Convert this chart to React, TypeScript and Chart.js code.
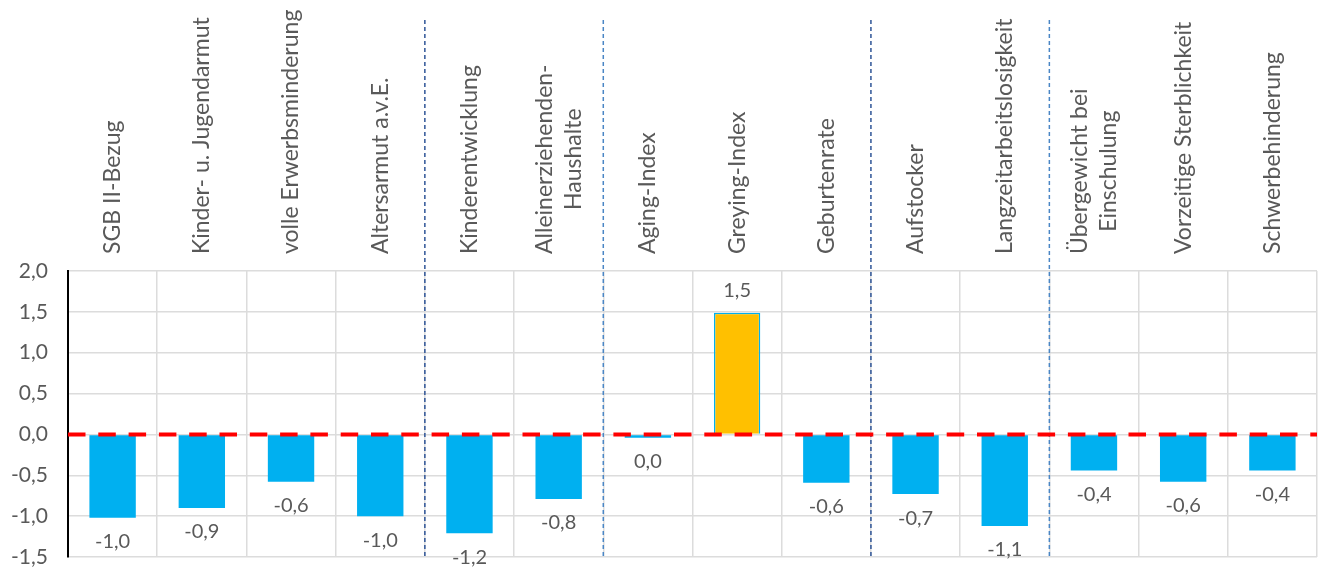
import React, { useEffect, useRef } from 'react';
import { Chart, registerables } from 'chart.js';

Chart.register(...registerables);

const categories = [
  'SGB II-Bezug',
  'Kinder- u. Jugendarmut',
  'volle Erwerbsminderung',
  'Altersarmut a.v.E.',
  'Kinderentwicklung',
  'Alleinerziehenden-\nHaushalte',
  'Aging-Index',
  'Greying-Index',
  'Geburtenrate',
  'Aufstocker',
  'Langzeitarbeitslosigkeit',
  'Übergewicht bei\nEinschulung',
  'Vorzeitige Sterblichkeit',
  'Schwerbehinderung',
];
const values = [-1.02, -0.9, -0.58, -1.0, -1.21, -0.79, -0.04, 1.49, -0.59, -0.73, -1.12, -0.44, -0.58, -0.44];
const highlightIndex = 7;
const yMin = -1.5;
const yMax = 2.0;
const yStep = 0.5;
const groupBreaks = [4, 6, 9, 11];
const breakColors = ['#2F5597', '#4A86C5', '#2F5597', '#4A86C5'];

const FONT = 'Lato';
const TEXT = '#595959';

const fmt = (v: number) => {
  const r = Math.round(Math.abs(v) * 10) / 10;
  const s = r.toFixed(1).replace('.', ',');
  return v < 0 && r !== 0 ? '-' + s : s;
};

const overlay = {
  id: 'overlay',
  afterDatasetsDraw(chart: any) {
    const { ctx, chartArea, scales } = chart;
    const x = scales.x;
    const y = scales.y;
    ctx.save();
    // group separators
    groupBreaks.forEach((b, k) => {
      const px = (x.getPixelForValue(b - 1) + x.getPixelForValue(b)) / 2;
      ctx.beginPath();
      ctx.setLineDash([4, 3]);
      ctx.lineWidth = 1.5;
      ctx.strokeStyle = breakColors[k];
      ctx.moveTo(px, 20);
      ctx.lineTo(px, chartArea.bottom);
      ctx.stroke();
    });
    // zero line
    const y0 = y.getPixelForValue(0);
    ctx.beginPath();
    ctx.setLineDash([17.5, 12.8]);
    ctx.lineWidth = 4;
    ctx.strokeStyle = '#FF0000';
    ctx.moveTo(chartArea.left, y0);
    ctx.lineTo(chartArea.right, y0);
    ctx.stroke();
    ctx.setLineDash([]);
    // data labels
    const meta = chart.getDatasetMeta(0);
    ctx.font = `20px ${FONT}`;
    ctx.fillStyle = TEXT;
    ctx.textAlign = 'center';
    ctx.textBaseline = 'middle';
    meta.data.forEach((bar: any, i: number) => {
      const v = values[i];
      const ty = v < 0 ? bar.y + 24 : bar.y - 22;
      ctx.fillText(fmt(v), bar.x, ty);
    });
    // category labels
    ctx.font = `23px ${FONT}`;
    categories.forEach((label, i) => {
      const lines = label.split('\n');
      const cx = x.getPixelForValue(i);
      const widths = lines.map((l) => ctx.measureText(l).width);
      const maxW = Math.max(...widths);
      const startY = chartArea.top - 17;
      ctx.save();
      ctx.translate(cx, startY - maxW / 2);
      ctx.rotate(-Math.PI / 2);
      const lh = 29;
      lines.forEach((l, j) => ctx.fillText(l, 0, (j - (lines.length - 1) / 2) * lh));
      ctx.restore();
    });
    ctx.restore();
  },
};

export default function App() {
  const ref = useRef<HTMLCanvasElement | null>(null);
  useEffect(() => {
    if (!ref.current) return;
    const chart = new Chart(ref.current, {
      type: 'bar',
      data: {
        labels: categories,
        datasets: [
          {
            data: values,
            backgroundColor: values.map((_, i) => (i === highlightIndex ? '#FFC000' : '#00B0F0')),
            borderColor: '#00B0F0',
            borderWidth: values.map((_, i) => (i === highlightIndex ? 1.5 : 0)),
            barPercentage: 0.52,
            categoryPercentage: 1,
          },
        ],
      },
      options: {
        animation: false,
        responsive: false,
        layout: { padding: { top: 271, right: 2, bottom: 10, left: 0 } },
        plugins: { legend: { display: false }, tooltip: { enabled: false } },
        scales: {
          x: {
            ticks: { display: false },
            grid: { color: '#DCDCDC', lineWidth: 1.5, drawTicks: false, offset: true },
            border: { display: false },
            afterFit: (s: any) => {
              s.height = 0;
              s.paddingLeft = 0;
              s.paddingRight = 0;
              s.paddingTop = 0;
              s.paddingBottom = 0;
            },
          },
          y: {
            min: yMin,
            max: yMax,
            ticks: {
              stepSize: yStep,
              color: TEXT,
              font: { family: FONT, size: 21 },
              padding: 20,
              callback: (v: any) => fmt(Number(v)),
            },
            grid: { color: '#DCDCDC', lineWidth: 1.5, drawTicks: false },
            border: { display: true, color: '#000000', width: 2 },
            afterFit: (s: any) => {
              s.width = 68;
              s.paddingTop = 0;
              s.paddingBottom = 0;
            },
          },
        },
      },
      plugins: [overlay],
    });
    return () => chart.destroy();
  }, []);
  return (
    <div style={{ position: 'fixed', left: 0, top: 0, width: 1319, height: 567, background: '#fff' }}>
      <canvas ref={ref} width={1319} height={567} style={{ display: 'block' }} />
    </div>
  );
}
